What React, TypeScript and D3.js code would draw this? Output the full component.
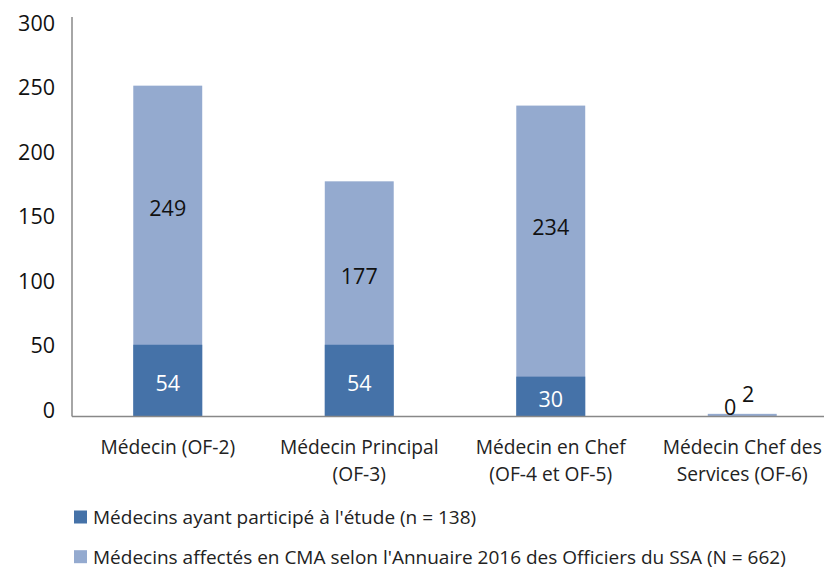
import React from "react";
import * as d3 from "d3";

const categories: string[][] = [
  ["Médecin (OF-2)"],
  ["Médecin Principal", "(OF-3)"],
  ["Médecin en Chef", "(OF-4 et OF-5)"],
  ["Médecin Chef des", "Services (OF-6)"],
];
const participants = [54, 54, 30, 0];
const affectes = [249, 177, 234, 2];
const yTicks = [0, 50, 100, 150, 200, 250, 300];
const legendLabels = [
  "Médecins ayant participé à l'étude (n = 138)",
  "Médecins affectés en CMA selon l'Annuaire 2016 des Officiers du SSA (N = 662)",
];
// value-axis anchor of the light bars' labels
const affectesLabelAt = [157, 106, 143, 17];

const DARK = "#4572A8";
const LIGHT = "#94AACF";
const FONT = "'Open Sans', sans-serif";

export default function App() {
  const W = 824;
  const H = 569;
  const x = d3
    .scaleBand<number>()
    .domain(d3.range(categories.length))
    .range([72, 838])
    .paddingInner(0.64)
    .paddingOuter(0.32);
  const y = d3.scaleLinear().domain([0, 300]).range([416.5, 17.9]);
  const yLab = d3.scaleLinear().domain([0, 300]).range([409, 22.5]);
  const bw = x.bandwidth();

  return (
    <svg
      width={W}
      height={H}
      style={{ position: "absolute", left: 0, top: 0, background: "#fff" }}
      fontFamily={FONT}
    >
      <rect width={W} height={H} fill="#fff" />
      {yTicks.map((t) => (
        <text
          key={t}
          x={55}
          y={yLab(t)}
          textAnchor="end"
          dominantBaseline="central"
          fontSize={21.5}
          fill="#111"
        >
          {t}
        </text>
      ))}
      {affectes.map((v, i) => (
        <rect
          key={"l" + i}
          x={x(i)!}
          y={y(v)}
          width={bw}
          height={y(0) - y(v)}
          fill={LIGHT}
        />
      ))}
      {participants.map((v, i) => (
        <rect
          key={"d" + i}
          x={x(i)!}
          y={y(v)}
          width={bw}
          height={y(0) - y(v)}
          fill={DARK}
        />
      ))}
      <line x1={72} x2={72} y1={17} y2={416.5} stroke="#888" strokeWidth={1.5} />
      <line x1={72} x2={824} y1={416.5} y2={416.5} stroke="#888" strokeWidth={1.5} />
      {affectes.map((v, i) => {
        const last = i === affectes.length - 1;
        return (
          <text
            key={"tl" + i}
            x={x(i)! + bw / 2 + (last ? 6 : 0)}
            y={y(affectesLabelAt[i])}
            textAnchor="middle"
            dominantBaseline="central"
            fontSize={21.5}
            fill="#111"
          >
            {v}
          </text>
        );
      })}
      {participants.map((v, i) => {
        const zero = v === 0;
        return (
          <text
            key={"td" + i}
            x={x(i)! + bw / 2 - (zero ? 12 : 0)}
            y={zero ? y(0) - 10 : (y(0) + y(v)) / 2 + 2}
            textAnchor="middle"
            dominantBaseline="central"
            fontSize={21.5}
            fill={zero ? "#111" : "#fff"}
          >
            {v}
          </text>
        );
      })}
      {categories.map((lines, i) => (
        <text
          key={"c" + i}
          x={x(i)! + bw / 2}
          textAnchor="middle"
          fontSize={19.2}
          fill="#222"
        >
          {lines.map((l, j) => (
            <tspan key={j} x={x(i)! + bw / 2} y={446.7 + j * 26.7} dominantBaseline="central">
              {l}
            </tspan>
          ))}
        </text>
      ))}
      {legendLabels.map((l, i) => (
        <g key={"lg" + i} transform={`translate(74, ${517 + i * 39.7})`}>
          <rect x={0} y={-6.5} width={13} height={13} fill={i === 0 ? DARK : LIGHT} />
          <text x={19} y={0} dominantBaseline="central" fontSize={19} fill="#222">
            {l}
          </text>
        </g>
      ))}
    </svg>
  );
}
